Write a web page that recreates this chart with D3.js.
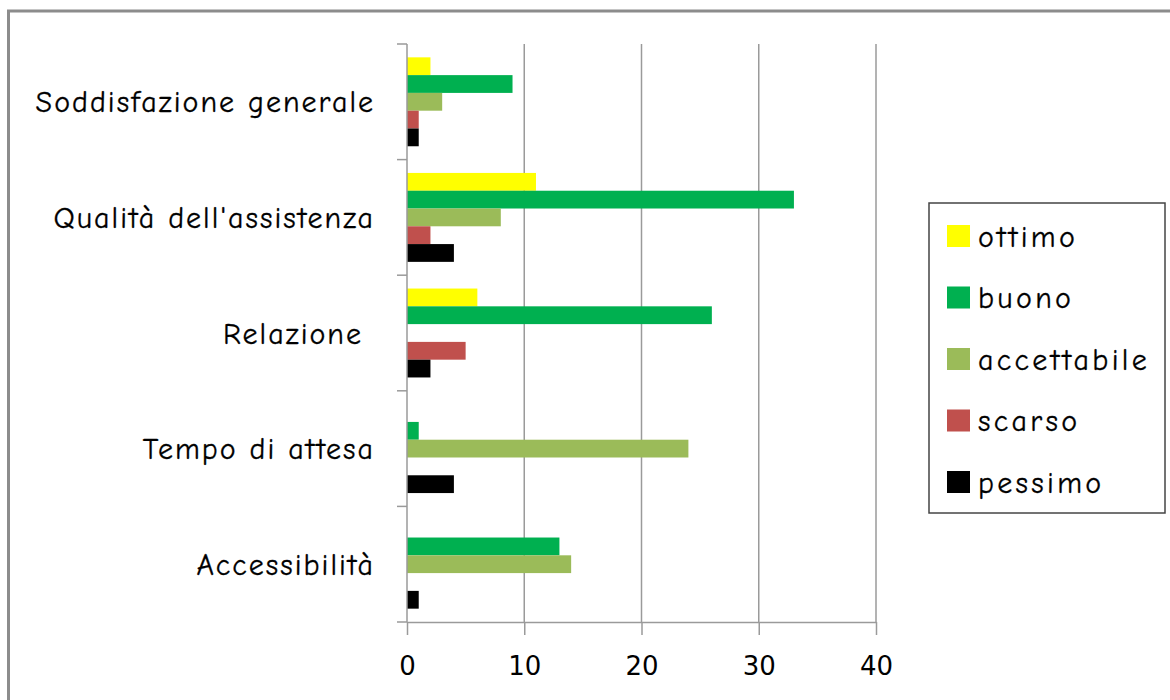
<!DOCTYPE html>
<html>
<head>
<meta charset="utf-8">
<script src="https://cdn.jsdelivr.net/npm/d3@7"></script>
<style>
  html, body { margin: 0; padding: 0; background: #fff; }
  svg { display: block; }
  text { font-family: "Comic Sans MS", "Comic Neue", "DejaVu Sans", sans-serif; fill: #000; }
  .xt text { font-family: "DejaVu Sans", Verdana, sans-serif; }
</style>
</head>
<body>
<svg id="chart" width="1170" height="700"></svg>
<script>
const categories = ["Soddisfazione generale", "Qualità dell'assistenza", "Relazione ", "Tempo di attesa", "Accessibilità"];
const seriesNames = ["ottimo", "buono", "accettabile", "scarso", "pessimo"];
const seriesColors = ["#ffff00", "#00b050", "#9bbb59", "#c0504d", "#000000"];
const ottimo =      [2, 11, 6, 0, 0];
const buono =       [9, 33, 26, 1, 13];
const accettabile = [3, 8, 0, 24, 14];
const scarso =      [1, 2, 5, 0, 0];
const pessimo =     [1, 4, 2, 4, 1];
const xTicks = [0, 10, 20, 30, 40];

const seriesValues = [ottimo, buono, accettabile, scarso, pessimo];

const svg = d3.select("#chart");

// outer frame
svg.append("rect").attr("x", 8.5).attr("y", 11).attr("width", 1200).attr("height", 720)
  .attr("fill", "#fff").attr("stroke", "#8c8c8c").attr("stroke-width", 3);

const x = d3.scaleLinear().domain([0, 40]).range([407, 876]);
const y = d3.scaleBand().domain(categories).range([44, 622]).paddingInner(0).paddingOuter(0);
const yi = d3.scaleBand().domain(seriesNames).range([0, y.bandwidth()]).paddingInner(0).paddingOuter(0.75);
const color = d3.scaleOrdinal().domain(seriesNames).range(seriesColors);

// gridlines
svg.append("g").selectAll("line").data(xTicks.filter(d => d > 0)).join("line")
  .attr("x1", d => x(d)).attr("x2", d => x(d))
  .attr("y1", 44).attr("y2", 622)
  .attr("stroke", "#9a9a9a").attr("stroke-width", 1.5);

// bars
const rows = [];
categories.forEach((c, i) => {
  seriesNames.forEach((s, j) => {
    rows.push({ cat: c, ser: s, val: seriesValues[j][i] });
  });
});
svg.append("g").selectAll("rect").data(rows.filter(d => d.val > 0)).join("rect")
  .attr("x", x(0))
  .attr("y", d => y(d.cat) + yi(d.ser))
  .attr("width", d => x(d.val) - x(0))
  .attr("height", yi.bandwidth())
  .attr("fill", d => color(d.ser));

// x axis
const xAxis = d3.axisBottom(x).tickValues(xTicks).tickSize(13).tickSizeOuter(0).tickPadding(22);
const gx = svg.append("g").attr("class", "xt").attr("transform", "translate(0,622)").call(xAxis);
gx.attr("font-family", null).attr("font-size", null);
gx.select(".domain").attr("stroke", "#9a9a9a").attr("stroke-width", 1.5);
gx.selectAll(".tick line").attr("stroke", "#9a9a9a").attr("stroke-width", 1.5);
gx.selectAll(".tick text").attr("font-size", 26).attr("fill", "#000");

// y axis: line + ticks at category boundaries
svg.append("line").attr("x1", x(0)).attr("x2", x(0)).attr("y1", 44).attr("y2", 622)
  .attr("stroke", "#9a9a9a").attr("stroke-width", 1.5);
const bounds = categories.map(c => y(c)).concat([y.range()[1]]);
svg.append("g").selectAll("line").data(bounds).join("line")
  .attr("x1", x(0) - 10).attr("x2", x(0))
  .attr("y1", d => d).attr("y2", d => d)
  .attr("stroke", "#9a9a9a").attr("stroke-width", 1.5);
svg.append("g").selectAll("text").data(categories).join("text")
  .attr("x", 375)
  .attr("y", d => y(d) + y.bandwidth() / 2)
  .attr("dy", "0.35em")
  .attr("text-anchor", "end")
  .attr("font-size", 30)
  .attr("letter-spacing", 2)
  .attr("stroke", "#000").attr("stroke-width", 0.3)
  .style("white-space", "pre")
  .text(d => d);

// legend
const lg = svg.append("g");
lg.append("rect").attr("x", 929).attr("y", 203).attr("width", 236).attr("height", 310)
  .attr("fill", "#fff").attr("stroke", "#444").attr("stroke-width", 1.5);
const ly = d3.scalePoint().domain(seriesNames).range([236, 482]);
lg.selectAll("rect.sw").data(seriesNames).join("rect").attr("class", "sw")
  .attr("x", 947).attr("y", d => ly(d) - 11).attr("width", 23).attr("height", 22)
  .attr("fill", d => color(d));
lg.selectAll("text").data(seriesNames).join("text")
  .attr("x", 978).attr("y", d => ly(d)).attr("dy", "0.35em")
  .attr("font-size", 30).attr("letter-spacing", 3.3)
  .attr("stroke", "#000").attr("stroke-width", 0.3)
  .text(d => d);
</script>
</body>
</html>
